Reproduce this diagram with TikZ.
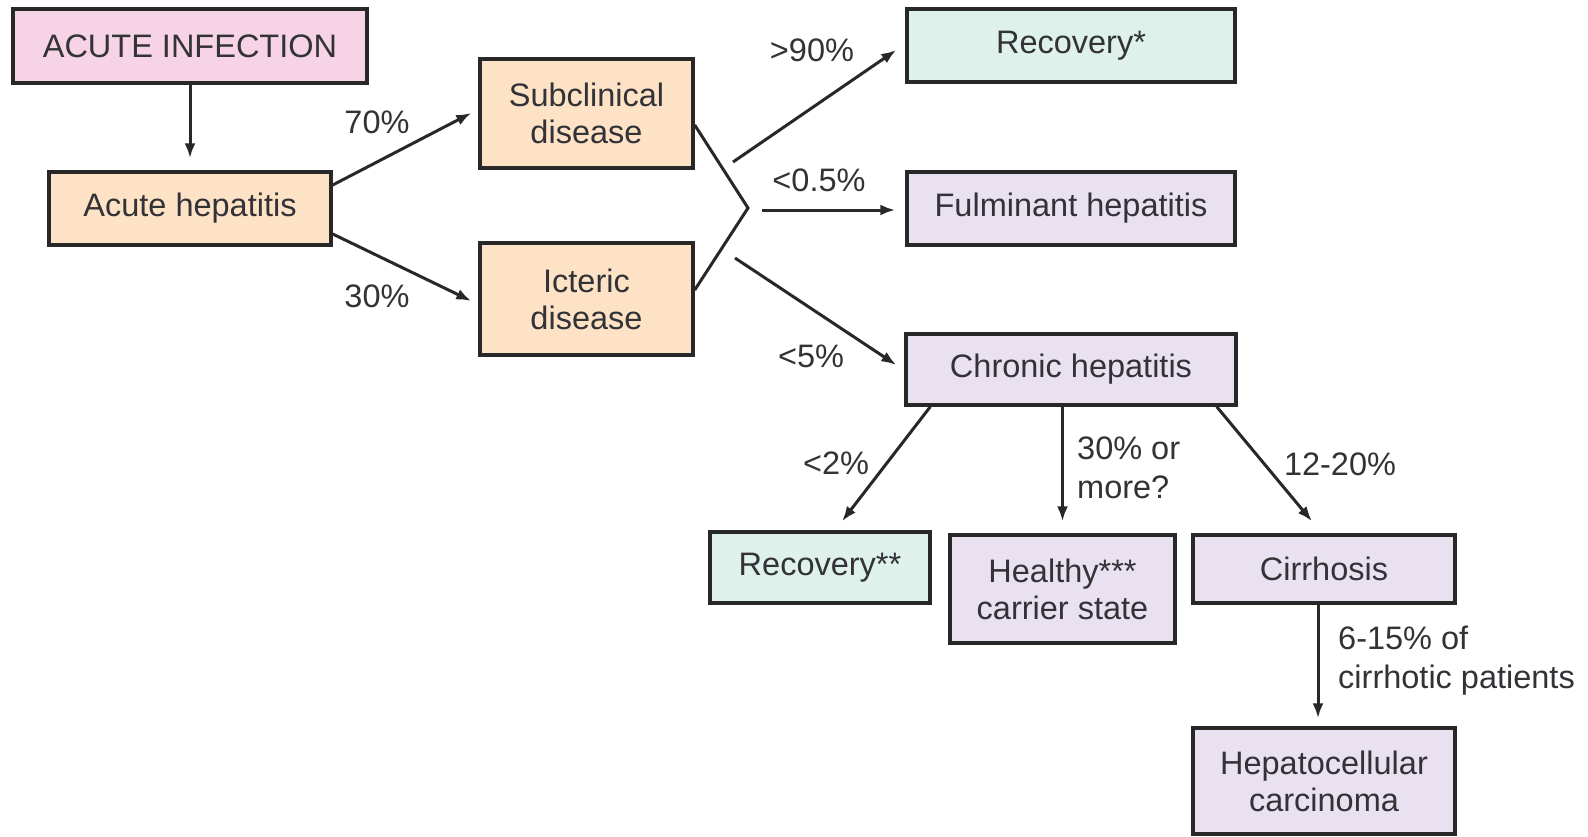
\documentclass[tikz,border=0pt]{standalone}
\usepackage{fontspec}
\setmainfont{Liberation Sans}
\usetikzlibrary{arrows.meta}
\definecolor{pinkbox}{RGB}{246,212,230}
\definecolor{peachbox}{RGB}{253,226,198}
\definecolor{greenbox}{RGB}{222,241,235}
\definecolor{lilacbox}{RGB}{234,225,240}
\definecolor{inkline}{RGB}{40,40,40}
\definecolor{inktext}{RGB}{50,50,55}
\tikzset{
  box/.style={draw=inkline, line width=3.4pt, rectangle, inner sep=0pt, align=center,
    text=inktext, font=\fontsize{32.5}{37}\selectfont},
  lbl/.style={inner sep=0pt, text=inktext, font=\fontsize{32.5}{39}\selectfont},
  arr/.style={draw=inkline, line width=3pt, -{Latex[length=15pt,width=11pt]}},
  ln/.style={draw=inkline, line width=3pt}
}
\begin{document}
\begin{tikzpicture}[x=1pt,y=-1pt]
\useasboundingbox (0,0) rectangle (1588,836);
% boxes
\node[box, fill=pinkbox, minimum width=354pt, minimum height=74pt] (ai) at (190,46) {ACUTE INFECTION};
\node[box, fill=peachbox, minimum width=282pt, minimum height=73pt] (ah) at (190,208.5) {Acute hepatitis};
\node[box, fill=peachbox, minimum width=213pt, minimum height=109pt] (sub) at (586.5,113.5) {Subclinical\\disease};
\node[box, fill=peachbox, minimum width=213pt, minimum height=112pt] (ict) at (586.5,299) {Icteric\\disease};
\node[box, fill=greenbox, minimum width=328pt, minimum height=73pt] (rec1) at (1071,45.5) {Recovery*};
\node[box, fill=lilacbox, minimum width=328pt, minimum height=73pt] (ful) at (1071,208.5) {Fulminant hepatitis};
\node[box, fill=lilacbox, minimum width=330pt, minimum height=71pt] (chr) at (1071,369.5) {Chronic hepatitis};
\node[box, fill=greenbox, minimum width=220pt, minimum height=71pt] (rec2) at (820,567.5) {Recovery**};
\node[box, fill=lilacbox, minimum width=225pt, minimum height=108pt] (hea) at (1062.5,589) {Healthy***\\carrier state};
\node[box, fill=lilacbox, minimum width=262pt, minimum height=68pt] (cir) at (1324,569) {Cirrhosis};
\node[box, fill=lilacbox, minimum width=262pt, minimum height=106pt] (hcc) at (1324,781) {Hepatocellular\\carcinoma};
% bracket
\coordinate (v) at (748,208);
\draw[ln, line join=miter] ([yshift=-11.5pt]sub.east) -- (v) -- ([yshift=9pt]ict.east);
\coordinate (s1) at (733,162);
\coordinate (s2) at (762,210);
\coordinate (s3) at (735,258);
% connectors
\draw[arr] (ai.south) -- ([yshift=12pt]ah.north);
\draw[arr] ([yshift=23.5pt]ah.east) -- ([xshift=-7pt,yshift=0.5pt]sub.west);
\draw[arr] ([yshift=-25.5pt]ah.east) -- ([xshift=-7pt,yshift=-2pt]ict.west);
\draw[arr] (s1) -- ([xshift=-9pt,yshift=-4.5pt]rec1.west);
\draw[arr] (s2) -- ([xshift=-10pt,yshift=-1.5pt]ful.west);
\draw[arr] (s3) -- ([xshift=-8pt,yshift=4.5pt]chr.west);
\draw[arr] ([xshift=26pt]chr.south west) -- ([xshift=22pt,yshift=9pt]rec2.north);
\draw[arr] (hea.north |- chr.south) -- ([yshift=12pt]hea.north);
\draw[arr] ([xshift=-21pt]chr.south east) -- ([xshift=-12pt,yshift=12pt]cir.north);
\draw[arr] ([xshift=-6pt]cir.south) -- ([xshift=-6pt,yshift=8pt]hcc.north);
% labels
\node[lbl] (l70) at (377,122) {70\%};
\node[lbl] (l30) at (377,296) {30\%};
\node[lbl] (l90) at (812,50) {>90\%};
\node[lbl] (l05) at (819,180) {<0.5\%};
\node[lbl] (l5) at (811,356) {<5\%};
\node[lbl] (l2) at (836,463) {<2\%};
\node[lbl, anchor=west, align=left] (l30m) at (1077,467.5) {30\% or\\more?};
\node[lbl] (l1220) at (1340,464) {12-20\%};
\node[lbl, anchor=west, align=left] (l615) at (1338,661) {6-15\% of\\cirrhotic patients};
\end{tikzpicture}
\end{document}
